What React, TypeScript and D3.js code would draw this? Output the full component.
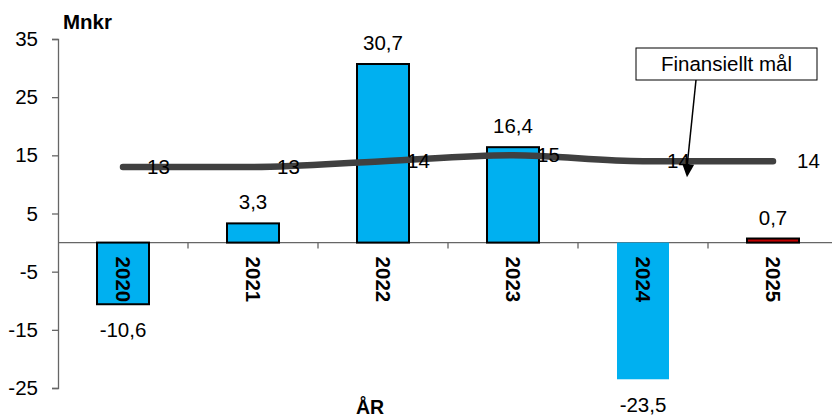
import React, { useEffect, useRef } from 'react'
import * as d3 from 'd3'

const years = ['2020', '2021', '2022', '2023', '2024', '2025']
const result = [-10.6, 3.3, 30.7, 16.4, -23.5, 0.7]
const target = [13, 13, 14, 15, 14, 14]
const yTicks = [-25, -15, -5, 5, 15, 25, 35]

const W = 832
const H = 418
const FONT = 'Arial, "Liberation Sans", sans-serif'
const FS = 20.5

const App = () => {
  const ref = useRef<SVGSVGElement>(null)

  useEffect(() => {
    const svg = d3.select(ref.current)
    svg.selectAll('*').remove()

    const x = d3.scaleBand().domain(years).range([58, 838])
    const y = d3.scaleLinear().domain([-25, 35]).range([388, 39])
    const bw = x.bandwidth()
    const cx = (d: string) => (x(d) as number) + bw / 2

    // y axis
    const ya = svg.append('g').attr('transform', 'translate(58,0)')
      .call(d3.axisLeft(y).tickValues(yTicks).tickSize(6).tickPadding(14).tickFormat((d) => String(d)))
    ya.select('.domain').attr('stroke', '#666').attr('stroke-width', 1.3)
    ya.selectAll('.tick line').attr('stroke', '#666').attr('stroke-width', 1.3)
    ya.selectAll('.tick text').attr('font-family', FONT).attr('font-size', FS).attr('fill', '#000')

    // x axis at zero
    const y0 = y(0)
    svg.append('line').attr('x1', 58).attr('x2', W).attr('y1', y0).attr('y2', y0)
      .attr('stroke', '#666').attr('stroke-width', 1.3)
    svg.append('g').selectAll('line').data(years.slice(1)).join('line')
      .attr('x1', (d) => x(d) as number).attr('x2', (d) => x(d) as number)
      .attr('y1', y0).attr('y2', y0 + 6)
      .attr('stroke', '#666').attr('stroke-width', 1.3)

    // bars
    const fills = ['#00B0F0', '#00B0F0', '#00B0F0', '#00B0F0', '#00B0F0', '#C00000']
    const strokes = ['#000', '#000', '#000', '#000', 'none', '#000']
    svg.append('g').selectAll('rect').data(result).join('rect')
      .attr('x', (_, i) => cx(years[i]) - bw * 0.2)
      .attr('width', bw * 0.4)
      .attr('y', (d) => y(Math.max(0, d)))
      .attr('height', (d) => Math.abs(y(d) - y0))
      .attr('fill', (_, i) => fills[i])
      .attr('stroke', (_, i) => strokes[i])
      .attr('stroke-width', 2)

    // bar value labels
    svg.append('g').selectAll('text').data(result).join('text')
      .attr('x', (_, i) => cx(years[i]))
      .attr('y', (d) => (d >= 0 ? y(d) - 14 : y(d) + 33))
      .attr('text-anchor', 'middle')
      .attr('font-family', FONT).attr('font-size', FS)
      .text((d) => String(d).replace('.', ','))

    // category labels (rotated)
    svg.append('g').selectAll('text').data(years).join('text')
      .attr('transform', (d) => `translate(${cx(d) - 7},${y0 + 14}) rotate(90)`)
      .attr('font-family', FONT).attr('font-size', FS).attr('font-weight', 'bold')
      .text((d) => d)

    // target line
    const line = d3.line<number>()
      .x((_, i) => cx(years[i]))
      .y((d) => y(d))
      .curve(d3.curveMonotoneX)
    svg.append('path').datum(target)
      .attr('d', line)
      .attr('fill', 'none').attr('stroke', '#404040')
      .attr('stroke-width', 6.5).attr('stroke-linecap', 'round')

    svg.append('g').selectAll('text').data(target).join('text')
      .attr('x', (_, i) => cx(years[i]) + 24)
      .attr('y', (d) => y(d) + 7)
      .attr('font-family', FONT).attr('font-size', FS)
      .text((d) => d)

    // titles
    svg.append('text').attr('x', 63).attr('y', 29)
      .attr('font-family', FONT).attr('font-size', FS).attr('font-weight', 'bold')
      .text('Mnkr')
    svg.append('text').attr('x', 370).attr('y', 414).attr('text-anchor', 'middle')
      .attr('font-family', FONT).attr('font-size', FS - 1).attr('font-weight', 'bold')
      .text('ÅR')

    // annotation
    const bx = 636, by = 48, bwid = 181, bh = 32
    const tipX = cx('2024') + 44
    const tipY = y(14) + 16
    const startX = bx + 60
    svg.append('line').attr('x1', startX).attr('y1', by + bh).attr('x2', tipX).attr('y2', tipY - 10)
      .attr('stroke', '#000').attr('stroke-width', 1.5)
    const ang = Math.atan2(tipY - (by + bh), tipX - startX)
    const len = 13, half = 6
    const bxp = tipX - len * Math.cos(ang), byp = tipY - len * Math.sin(ang)
    const px = -Math.sin(ang), py = Math.cos(ang)
    svg.append('path')
      .attr('d', `M${tipX},${tipY}L${bxp + px * half},${byp + py * half}L${bxp - px * half},${byp - py * half}Z`)
      .attr('fill', '#000')
    svg.append('rect').attr('x', bx).attr('y', by).attr('width', bwid).attr('height', bh)
      .attr('fill', '#fff').attr('stroke', '#000').attr('stroke-width', 1)
    svg.append('text').attr('x', bx + bwid / 2).attr('y', by + bh / 2 + 7).attr('text-anchor', 'middle')
      .attr('font-family', FONT).attr('font-size', FS)
      .text('Finansiellt mål')
  })

  return (
    <svg ref={ref} width={W} height={H}
      style={{ position: 'absolute', left: 0, top: 0, background: '#fff' }} />
  )
}

export default App
